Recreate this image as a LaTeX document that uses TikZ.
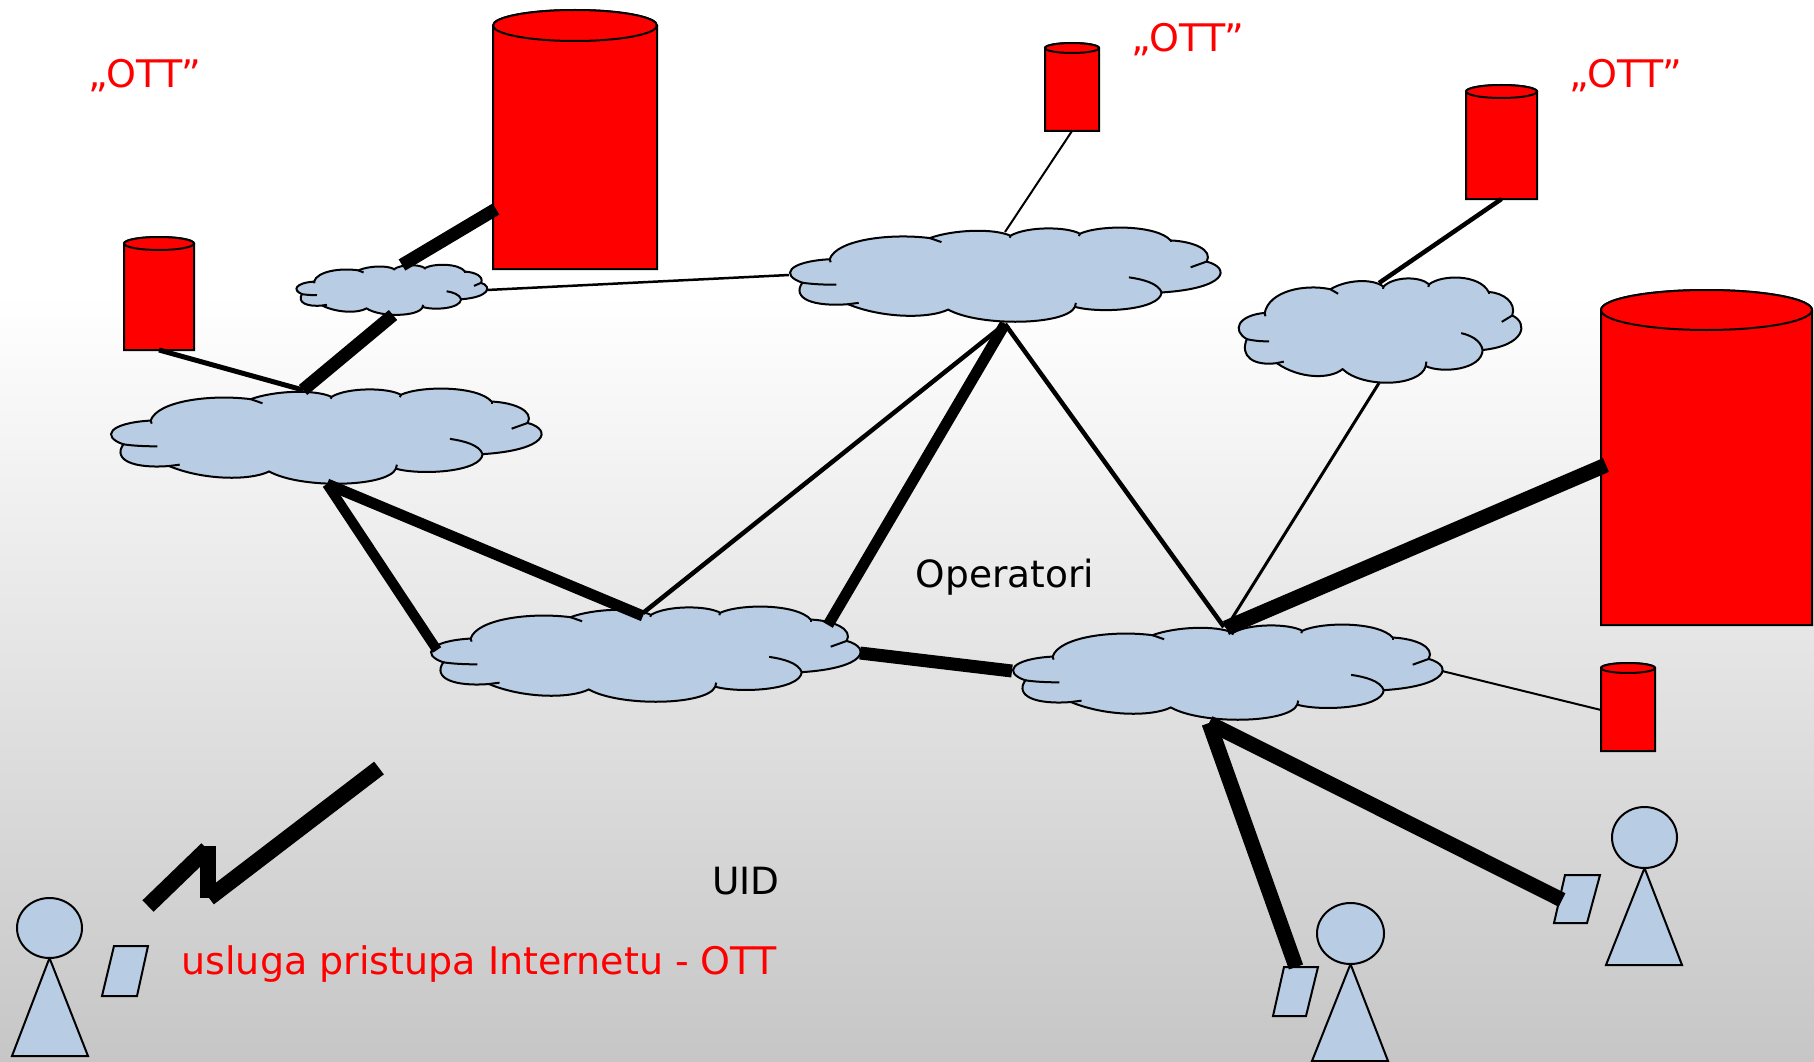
\documentclass[tikz,border=0pt]{standalone}
\usepackage{fontspec}
\setmainfont{DejaVu Sans}
\definecolor{skyfill}{HTML}{B8CCE4}
\definecolor{bgend}{HTML}{C6C6C6}
\tikzset{
  shapeline/.style={draw=black,line width=2pt},
  anchorbox/.style={inner sep=0pt,outer sep=0pt,rectangle},
  link/.style={draw=black,line width=#1},
  redlabel/.style={text=red,font=\fontsize{38}{44}\selectfont,inner sep=0pt},
  blacklabel/.style={text=black,font=\fontsize{37.5}{44}\selectfont,inner sep=0pt},
}
\newcommand\cloudshape[5]{%
  \pgfmathsetmacro\cw{#4-#2}\pgfmathsetmacro\ch{#5-#3}%
  \begin{scope}[shift={(#2,#3)},xscale=\cw/1292,yscale=\ch/280,shift={(-28,-55)}]
    \path[fill=skyfill,shapeline]
      (150,148) .. controls (170,90) and (330,70) .. (450,85)
      .. controls (520,60) and (640,55) .. (692,78)
      .. controls (740,50) and (860,50) .. (900,72)
      .. controls (960,45) and (1130,45) .. (1172,92)
      .. controls (1240,95) and (1300,120) .. (1280,155)
      .. controls (1355,175) and (1340,235) .. (1145,247)
      .. controls (1140,300) and (960,310) .. (885,290)
      .. controls (860,345) and (600,350) .. (505,298)
      .. controls (450,325) and (310,325) .. (205,282)
      .. controls (100,290) and (35,265) .. (68,218)
      .. controls (0,195) and (25,155) .. (150,148) -- cycle;
    \draw[shapeline] (450,85) -- (485,97);
    \draw[shapeline] (692,78) -- (690,84);
    \draw[shapeline] (900,72) -- (897,79);
    \draw[shapeline] (1172,92) -- (1172,98);
    \draw[shapeline] (1280,155) -- (1232,172);
    \draw[shapeline] (1145,247) .. controls (1135,220) and (1090,208) .. (1047,202);
    \draw[shapeline] (885,290) -- (888,278);
    \draw[shapeline] (68,218) .. controls (95,222) and (130,224) .. (170,224);
    \draw[shapeline] (205,282) -- (237,278);
    \draw[shapeline] (150,148) -- (153,157);
  \end{scope}
  \node[anchorbox,minimum width=\cw pt,minimum height=\ch pt] (#1) at ({(#2+#4)/2},{(#3+#5)/2}) {};%
}
% name, x0, ytop, x1, y of lowest point of the top ellipse, ybottom
\newcommand\dbcyl[6]{%
  \pgfmathsetmacro\cw{#4-#2}\pgfmathsetmacro\ch{#6-#3}%
  \pgfmathsetmacro\rx{(#4-#2)/2}\pgfmathsetmacro\ry{(#5-#3)/2}%
  \pgfmathsetmacro\cy{(#3+#5)/2}\pgfmathsetmacro\cx{(#2+#4)/2}%
  \path[fill=red,shapeline] (#2,\cy) -- (#2,#6) -- (#4,#6) -- (#4,\cy)
    arc[start angle=0,end angle=180,x radius=\rx pt,y radius=\ry pt] -- cycle;
  \path[fill=red,shapeline] (\cx,\cy) ellipse[x radius=\rx pt,y radius=\ry pt];
  \node[anchorbox,minimum width=\cw pt,minimum height=\ch pt] (#1) at ({(#2+#4)/2},{(#3+#6)/2}) {};%
}
% name, head x0,y0,x1,y1, base x0,x1,y
\newcommand\personfig[8]{%
  \pgfmathsetmacro\rx{(#4-#2)/2}\pgfmathsetmacro\ry{(#5-#3)/2}%
  \pgfmathsetmacro\cx{(#2+#4)/2}\pgfmathsetmacro\cy{(#3+#5)/2}%
  \path[fill=skyfill,shapeline] (\cx,#5) -- (#6,#8) -- (#7,#8) -- cycle;
  \path[fill=skyfill,shapeline] (\cx,\cy) ellipse[x radius=\rx pt,y radius=\ry pt];
  \coordinate (#1) at (\cx,\cy);%
}
\begin{document}
\begin{tikzpicture}[x=1pt,y=-1pt]
\useasboundingbox (0,0) rectangle (1814,1062);
\fill[white] (0,0) rectangle (1814,300);
\shade[top color=white,bottom color=bgend] (0,295) rectangle (1814,1062);

% databases
\dbcyl{dbBig}{493}{10}{657}{41}{269}
\dbcyl{dbLeft}{124}{237}{194}{250}{350}
\dbcyl{dbTop}{1045}{43}{1099}{53}{131}
\dbcyl{dbUpper}{1466}{85}{1537}{98}{199}
\dbcyl{dbHuge}{1601}{290}{1812}{330}{625}
\dbcyl{dbSmall}{1601}{663}{1655}{673}{751}

% clouds
\cloudshape{cSmall}{296}{265}{487}{315}
\cloudshape{cTop}{789}{228}{1220}{322}
\cloudshape{cLeft}{110}{389}{541}{484}
\cloudshape{cUpper}{1238}{278}{1521}{383}
\cloudshape{cMid}{430}{607}{860}{702}
\cloudshape{cRight}{1012}{625}{1442}{720}

\draw[link=2.5pt] (cSmall.east) -- (cTop.west);

% persons and tablets
\personfig{pA}{17}{898}{82}{958}{12}{88}{1056}
\personfig{pB}{1317}{903}{1384}{964}{1312}{1388}{1061}
\personfig{pC}{1612}{807}{1677}{868}{1606}{1682}{965}
\path[fill=skyfill,shapeline] (114,946) -- (148,946) -- (137,996) -- (102,996) -- cycle;
\path[fill=skyfill,shapeline] (1284,967) -- (1318,967) -- (1306,1016) -- (1273,1016) -- cycle;
\path[fill=skyfill,shapeline] (1565,875) -- (1600,875) -- (1587,923) -- (1554,923) -- cycle;

% free connector ends
\coordinate (bigPort) at (496,209);
\coordinate (smallTopPort) at (402,265);
\coordinate (smallBotPort) at (393,315);
\coordinate (leftTopPort) at (303,390);
\coordinate (leftBotPort) at (327,484);
\coordinate (topBotPort) at (1005,324);
\coordinate (topTopPort) at (1005,232);
\coordinate (upperTopPort) at (1379,283);
\coordinate (upperBotPort) at (1379,383);
\coordinate (midTopPort) at (643,616);
\coordinate (midTopPortB) at (643,613);
\coordinate (midRightPort) at (828,625);
\coordinate (midLeftPort) at (437,650);
\coordinate (midEastPort) at (860,653);
\coordinate (rightWestPort) at (1012,671);
\coordinate (rightTopPort) at (1226,628);
\coordinate (rightTopPortB) at (1224,627);
\coordinate (rightEastPort) at (1442,671);
\coordinate (rightBotPort) at (1209,723);
\coordinate (hugePort) at (1606,465);
\coordinate (smallDbPort) at (1601,710);
\coordinate (tabBPort) at (1296,967);
\coordinate (tabCPort) at (1562,900);

% connectors
\draw[link=13pt] (smallTopPort) -- (bigPort);
\draw[link=13pt] (smallBotPort) -- (leftTopPort);
\draw[link=5pt] (dbLeft.south) -- (leftTopPort);
\draw[link=2pt] (dbTop.south) -- (topTopPort);
\draw[link=4.5pt] (dbUpper.south) -- (upperTopPort);
\draw[link=3pt] (upperBotPort) -- (rightTopPort);
\draw[link=4.5pt] (topBotPort) -- (midTopPortB);
\draw[link=11pt] (topBotPort) -- (midRightPort);
\draw[link=4.5pt] (topBotPort) -- (rightTopPortB);
\draw[link=11pt] (leftBotPort) -- (midTopPort);
\draw[link=10pt] (leftBotPort) -- (midLeftPort);
\draw[link=13pt] (midEastPort) -- (rightWestPort);
\draw[link=15pt] (rightTopPort) -- (hugePort);
\draw[link=2pt] (rightEastPort) -- (smallDbPort);
\draw[link=15pt] (rightBotPort) -- (tabBPort);
\draw[link=15pt] (rightBotPort) -- (tabCPort);

% lightning
\coordinate (boltA) at (148,906);
\coordinate (boltB) at (207,849);
\coordinate (boltC) at (208,846);
\coordinate (boltD) at (208,898);
\coordinate (boltE) at (209,898);
\coordinate (boltF) at (379,768);
\draw[link=16pt] (boltA) -- (boltB);
\draw[link=16pt] (boltC) -- (boltD);
\draw[link=16pt] (boltE) -- (boltF);

% labels
\node[redlabel] (ottLeft) at (145,76) {„OTT”};
\node[redlabel] (ottTop) at (1188,40) {„OTT”};
\node[redlabel] (ottRight) at (1626,76) {„OTT”};
\node[blacklabel] (operatori) at (1005,577) {Operatori};
\node[blacklabel] (uid) at (746,881) {UID};
\node[redlabel] (usluga) at (479,964) {usluga pristupa Internetu - OTT};
\end{tikzpicture}
\end{document}
